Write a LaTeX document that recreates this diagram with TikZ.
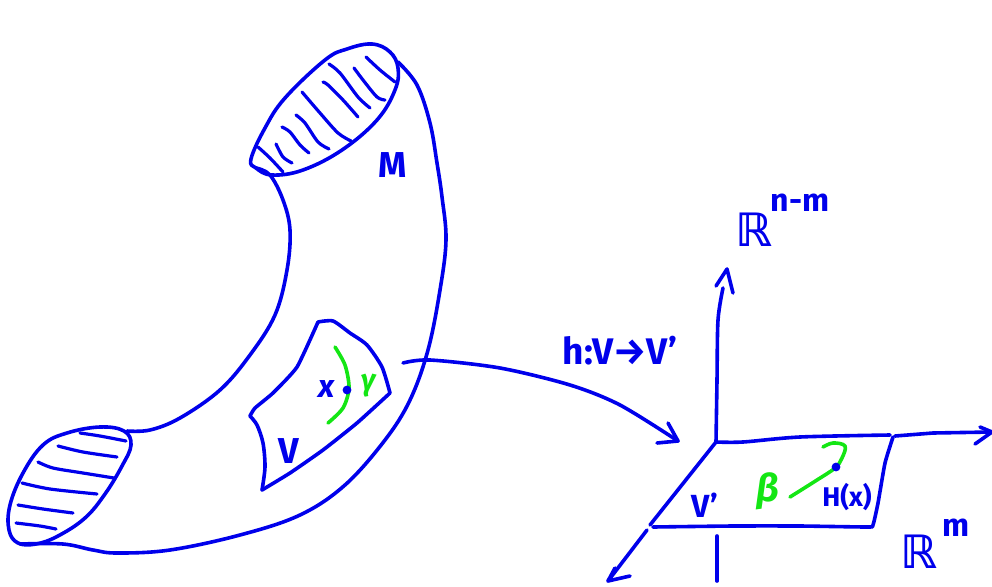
\documentclass[tikz,border=0pt]{standalone}
\usepackage{fontspec}
\setmainfont{Fira Sans}
\newfontfamily\bbfont{DejaVu Sans}[BoldFont={DejaVu Sans Bold}]
\definecolor{ink}{RGB}{0,0,235}
\definecolor{gink}{RGB}{20,230,20}
\tikzset{
 pen/.style={draw=ink,line width=3.6pt,line cap=round,line join=round},
 hatch/.style={draw=ink,line width=3.2pt,line cap=round,line join=round},
 gpen/.style={draw=gink,line width=3.6pt,line cap=round,line join=round},
 lab/.style={text=ink,inner sep=0pt,font=\fontsize{#1}{#1}\selectfont\bfseries},
 glab/.style={text=gink,inner sep=0pt,font=\fontsize{#1}{#1}\selectfont\bfseries},
}
\begin{document}
\begin{tikzpicture}[x=1pt,y=-1pt]
\useasboundingbox (0,0) rectangle (992,586);
% top disc
\draw[pen] plot[smooth cycle,tension=0.65] coordinates {(251,159)(265,128)(285,98)(325,60)(347,49)(372,44)(390,52)(398,68)(395,90)(377,120)(342,150)(303,170)(272,175)(256,168)};
\foreach \c in {
 {(258,147)(270,158)(283,172)},
 {(276,144)(283,157)(292,163)},
 {(282,127)(290,132)(300,145)(309,153)},
 {(296,115)(305,123)(318,142)(329,149)},
 {(302,92)(320,113)(338,133)(351,141)},
 {(323,82)(328,85)(343,100)(358,117)},
 {(329,64)(340,73)(358,97)(370,108)},
 {(354,68)(363,80)(377,97)(385,100)},
 {(366,57)(380,70)(395,82)}}
 \draw[hatch] plot[smooth] coordinates \c;
% body outlines
\draw[pen] plot[smooth,tension=0.6] coordinates {(398,62)(417,85)(430,123)(437,163)(442,197)(446,240)(440,290)(428,350)(410,400)(385,440)(345,485)(300,515)(240,535)(170,550)(117,553)(93,550)(63,544)(20,544)};
\draw[pen] plot[smooth,tension=0.6] coordinates {(256,168)(270,175)(283,200)(290,230)(287,270)(275,315)(250,355)(220,390)(180,418)(150,430)(127,431)};
% bottom disc
\draw[pen] plot[smooth cycle,tension=0.65] coordinates {(124,431)(131,445)(122,466)(105,494)(85,518)(58,536)(36,544)(18,543)(9,530)(10,505)(23,473)(43,445)(67,433)(100,427)};
\foreach \c in {
 {(80,433)(100,436)(126,441)},
 {(58,446)(83,452)(117,457)},
 {(38,462)(53,468)(83,473)(114,478)},
 {(22,483)(50,489)(97,494)},
 {(18,505)(43,509)(73,513)},
 {(16,523)(40,526)(56,529)}}
 \draw[hatch] plot[smooth] coordinates \c;
% patch V
\draw[pen] plot[smooth,tension=0.4] coordinates {(318,322)(333,321)(350,333)(367,345)(382,367)(390,393)};
\draw[pen] plot[smooth,tension=0.3] coordinates {(390,393)(357,423)(323,450)(290,473)(262,490)};
\draw[pen] plot[smooth,tension=0.5] coordinates {(262,490)(265,467)(263,443)(257,425)(250,416)};
\draw[pen] plot[smooth,tension=0.3] coordinates {(250,416)(255,408)(273,393)(297,367)(318,322)};
% gamma curve and point x
\draw[gpen] plot[smooth] coordinates {(335,347)(345,365)(349,388)(343,408)(328,423)};
\fill[ink] (347,390) circle (4.4pt);
% mapping arrow
\coordinate (ms) at (403,363);
\coordinate (mt) at (678,441);
\draw[pen] plot[smooth] coordinates {(ms)(430,360)(500,368)(570,385)(620,405)(mt)};
\draw[pen] (668,423) -- (mt) -- (657,443);
% axes
\coordinate (O) at (716,442);
\coordinate (up) at (727,269);
\draw[pen] plot[smooth] coordinates {(O)(717,380)(718,320)(723,288)};
\draw[pen] (716,286) -- (up) -- (733,293);
\coordinate (xe) at (992,432);
\draw[pen] plot[smooth] coordinates {(O)(743,442)(800,437)(890,435)};
\draw[pen] (895,436) -- (933,433) -- (xe);
\draw[pen] (980,427) -- (xe) -- (975,444);
\coordinate (ze) at (608,581);
\draw[pen] (O) -- (650,525);
\draw[pen] (647,530) -- (ze);
\draw[pen] (630,576) -- (ze) -- (615,568);
\draw[pen] (717,536) -- (717,581);
% chart V'
\draw[pen] plot[smooth,tension=0.3] coordinates {(893,437)(885,463)(878,503)(873,525)(868,527)(800,526)(733,526)(653,527)};
% beta curve
\draw[gpen] plot[smooth,tension=0.6] coordinates {(823,447)(833,443)(845,446)(842,458)(835,468)(817,480)(790,497)};
\fill[ink] (836,467) circle (4.4pt);
% labels
\node[lab=36] (M) at (393,165) {M};
\node[lab=36] (Vl) at (289,451) {V};
\node[lab=32] (xl) at (327,389) {\itshape x};
\node[glab=30] (gl) at (368,386) {\itshape γ};
\node[lab=37] (ml) at (620,351) {h:V→V'};
\node[lab=32] (Vp) at (705,505) {V'};
\node[glab=38] (bl) at (768,491) {\itshape β};
\node[lab=27] (Hl) at (847,497) {H(x)};
\node[lab=46] (R1) at (754,230) {\bbfont ℝ};
\node[lab=32] (R1s) at (800,203) {n-m};
\node[lab=46] (R2) at (919,552) {\bbfont ℝ};
\node[lab=32] (R2s) at (956,528) {m};
\end{tikzpicture}
\end{document}
